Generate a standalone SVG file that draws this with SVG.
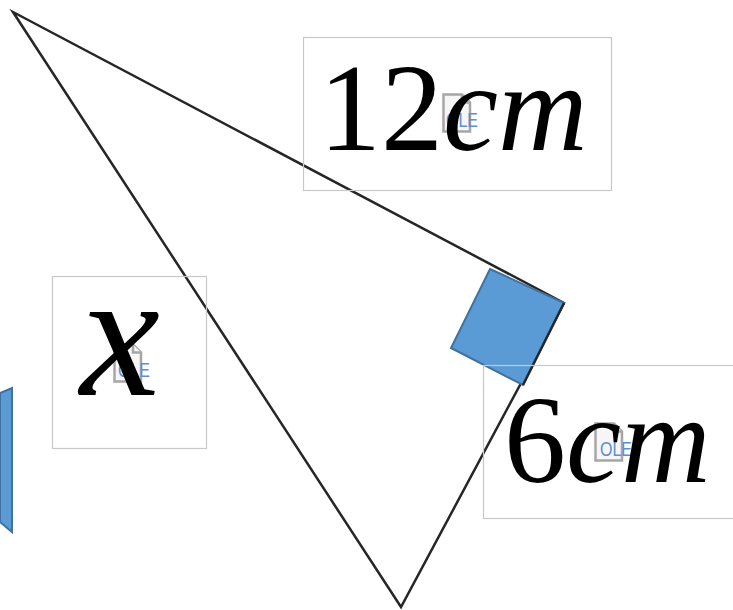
<svg xmlns="http://www.w3.org/2000/svg" width="733" height="610" viewBox="0 0 733 610">
<defs>
<style>
.box{fill:none;stroke:#c8c8c8;stroke-width:1.2}
.blue{fill:#5b9bd5;stroke:#41719c;stroke-width:2}
.tri{fill:none;stroke:#262626;stroke-width:2.5;stroke-linejoin:miter}
.doc{fill:#f6f6f6;stroke:#a6a6a6;stroke-width:2.5}
.ole{font-family:"Liberation Sans",Arial,sans-serif;font-size:21px;fill:#5b8fd0}
.t{font-family:"Liberation Serif","Times New Roman",serif;fill:#000}
.it{font-style:italic}
</style>
<g id="oleicon">
<path class="doc" d="M1.5,1.5 H20 L28,9.5 V38.5 H1.5 Z"/>
<path class="doc" d="M20,1.5 V9.5 H28" fill="none"/>
</g>
</defs>
<g id="left-shape">
<polygon class="blue" points="0,393 12,388 12,532 0,522"/>
</g>
<g id="connectors">
<polygon class="tri" points="13,12 564,303 401,607"/>
</g>
<g id="right-angle">
<polygon class="blue" points="490,269 564,303 523,385 451,348"/>
<line x1="564" y1="303" x2="523" y2="385" stroke="#262626" stroke-width="2.5"/>
</g>
<g id="label-12cm">
<rect class="box" x="303.5" y="37.5" width="308" height="153"/>
<use href="#oleicon" x="442" y="93"/>
<text class="ole" x="446" y="127" textLength="32" lengthAdjust="spacingAndGlyphs">OLE</text>
<text class="t" x="319" y="150" font-size="124">12<tspan class="it">cm</tspan></text>
</g>
<g id="label-x">
<rect class="box" x="52.5" y="276.5" width="154" height="172"/>
<use href="#oleicon" x="113" y="343"/>
<text class="ole" x="118" y="377" textLength="32" lengthAdjust="spacingAndGlyphs">OLE</text>
<text class="t it" x="80" y="395" font-size="180">x</text>
</g>
<g id="label-6cm">
<rect class="box" x="483.5" y="365.5" width="260" height="153"/>
<use href="#oleicon" x="594" y="422"/>
<text class="ole" x="600" y="456" textLength="32" lengthAdjust="spacingAndGlyphs">OLE</text>
<text class="t" x="504" y="482" font-size="124">6<tspan class="it">cm</tspan></text>
</g>
</svg>
